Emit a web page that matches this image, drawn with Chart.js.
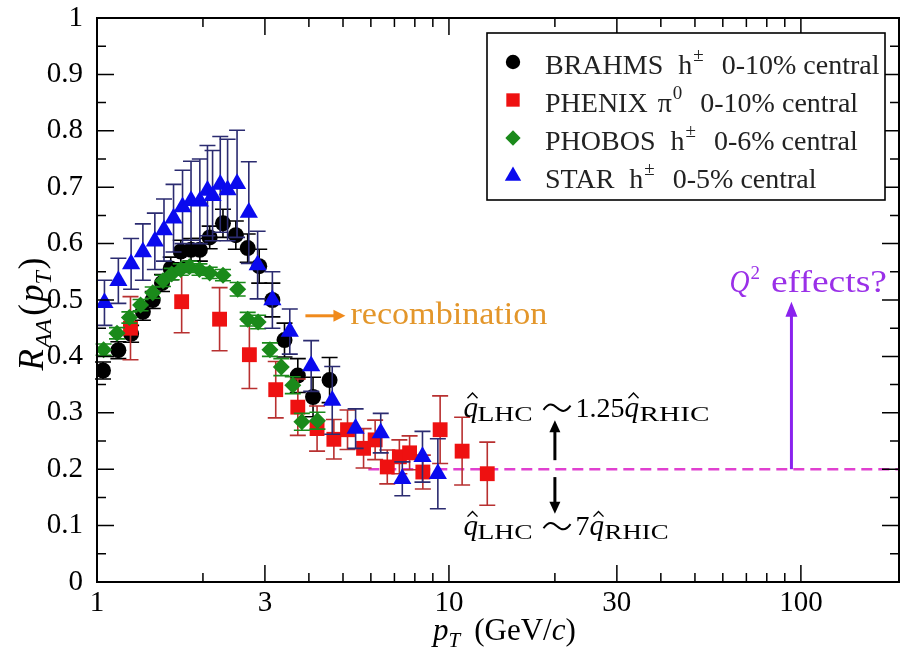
<!DOCTYPE html>
<html>
<head>
<meta charset="utf-8">
<script src="https://cdn.jsdelivr.net/npm/chart.js@4.4.0/dist/chart.umd.min.js"></script>
<style>
  html, body { margin: 0; padding: 0; background: #fff; }
  #wrap { width: 901px; height: 656px; }
</style>
</head>
<body>
<div id="wrap"><canvas id="raaChart"></canvas></div>
<script>
// =============================
// Nuclear modification factor R_AA(pT), central Au+Au at RHIC
// =============================

// BRAHMS h± 0-10%
const brahmsPt  = [1.04, 1.15, 1.25, 1.35, 1.44, 1.53, 1.62, 1.73, 1.85, 1.96, 2.09, 2.28, 2.48, 2.68, 2.89, 3.15, 3.41, 3.72, 4.11, 4.58];
const brahmsR   = [0.375, 0.411, 0.440, 0.479, 0.500, 0.530, 0.556, 0.586, 0.589, 0.589, 0.611, 0.636, 0.615, 0.592, 0.560, 0.500, 0.429, 0.366, 0.328, 0.358];
const brahmsErr = [0.015, 0.015, 0.015, 0.015, 0.015, 0.015, 0.02, 0.02, 0.02, 0.02, 0.02, 0.025, 0.025, 0.025, 0.03, 0.03, 0.03, 0.03, 0.035, 0.04];

// PHENIX pi0 0-10%
const phenixPt  = [1.245, 1.74, 2.23, 2.71, 3.22, 3.72, 4.22, 4.71, 5.15, 5.72, 6.17, 6.68, 7.23, 7.73, 8.43, 9.44, 10.9, 12.85];
const phenixR   = [0.450, 0.497, 0.466, 0.403, 0.341, 0.310, 0.272, 0.253, 0.270, 0.237, 0.252, 0.204, 0.222, 0.229, 0.195, 0.270, 0.232, 0.192];
const phenixErr = [0.056, 0.055, 0.056, 0.06, 0.05, 0.05, 0.04, 0.035, 0.035, 0.035, 0.035, 0.03, 0.03, 0.03, 0.03, 0.06, 0.06, 0.056];

// PHOBOS h± 0-6%
const phobosPt  = [1.044, 1.14, 1.236, 1.33, 1.44, 1.54, 1.63, 1.73, 1.83, 1.955, 2.09, 2.28, 2.51, 2.68, 2.87, 3.10, 3.34, 3.60, 3.82, 4.23];
const phobosR   = [0.412, 0.441, 0.469, 0.491, 0.513, 0.534, 0.546, 0.554, 0.559, 0.554, 0.548, 0.544, 0.519, 0.466, 0.461, 0.412, 0.381, 0.349, 0.284, 0.286];
const phobosErr = [0.01, 0.01, 0.01, 0.01, 0.01, 0.01, 0.01, 0.01, 0.01, 0.01, 0.01, 0.01, 0.012, 0.012, 0.012, 0.012, 0.015, 0.015, 0.015, 0.015];

// STAR h± 0-5%
const starPt  = [1.05, 1.15, 1.25, 1.35, 1.46, 1.55, 1.65, 1.75, 1.85, 1.96, 2.06, 2.13, 2.24, 2.35, 2.50, 2.70, 2.86, 3.15, 3.53, 4.06, 4.66, 5.43, 6.40, 7.37, 8.41, 9.30];
const starR   = [0.495, 0.534, 0.564, 0.585, 0.604, 0.624, 0.645, 0.665, 0.676, 0.675, 0.694, 0.685, 0.705, 0.695, 0.706, 0.655, 0.562, 0.500, 0.444, 0.383, 0.322, 0.272, 0.264, 0.183, 0.222, 0.192];
const starErr = [0.04, 0.04, 0.045, 0.05, 0.05, 0.055, 0.06, 0.065, 0.07, 0.075, 0.08, 0.08, 0.085, 0.09, 0.095, 0.09, 0.06, 0.05, 0.04, 0.045, 0.06, 0.035, 0.035, 0.03, 0.045, 0.062];

// legend text pieces
const expNames     = ['BRAHMS', 'PHENIX', 'PHOBOS', 'STAR'];
const expParticles = [['h', '±'], ['π', '0'], ['h', '±'], ['h', '±']];
const expCentral   = ['0-10% central', '0-10% central', '0-6% central', '0-5% central'];

// axes
const xTickValues = [1, 3, 10, 30, 100];
const xMinorTicks = [2, 4, 5, 6, 7, 8, 9, 20, 40, 50, 60, 70, 80, 90];
const xMin = 1, xMax = 190;
const yMin = 0, yMax = 1, yStep = 0.1;

// guide lines
const baselineR = 0.2;      // dashed reference level
const baselineFrom = 5.9;
const q2ArrowPt = 94, q2ArrowTop = 0.497;
const qhatArrowPt = 20;
const recoArrow = [3.91, 5.08], recoLevel = 0.472;

const SERIF = '"Liberation Serif", "Times New Roman", serif';

function pts(xs, ys) {
  return xs.map((x, i) => ({ x: x, y: ys[i] }));
}

function seriesLabel(i) {
  return expNames[i] + ' ' + expParticles[i].join('') + ' ' + expCentral[i];
}

const datasets = [
  { label: seriesLabel(0), data: pts(brahmsPt, brahmsR), errors: brahmsErr, errColor: '#000000',
    pointStyle: 'circle', pointRadius: 8, backgroundColor: '#000000', order: 3 },
  { label: seriesLabel(1), data: pts(phenixPt, phenixR), errors: phenixErr, errColor: '#b83030',
    pointStyle: 'rect', pointRadius: 10.5, backgroundColor: '#ee1111', order: 2 },
  { label: seriesLabel(2), data: pts(phobosPt, phobosR), errors: phobosErr, errColor: '#1a8a1a',
    pointStyle: 'rectRot', pointRadius: 8.5, backgroundColor: '#1a8a1a', order: 1 },
  { label: seriesLabel(3), data: pts(starPt, starR), errors: starErr, errColor: '#2b2b70',
    pointStyle: 'triangle', pointRadius: 10.5, backgroundColor: '#0a0aee', order: 0 }
];
datasets.forEach(d => {
  d.borderWidth = 0;
  d.borderColor = d.backgroundColor;
  d.pointHoverRadius = d.pointRadius;
  d.showLine = false;
});

// ---------- drawing helpers ----------
function text(ctx, s, x, y, font, color, w) {
  ctx.font = font;
  ctx.fillStyle = color;
  const m = ctx.measureText(s).width;
  if (w) {
    ctx.save();
    ctx.translate(x, y);
    ctx.scale(w / m, 1);
    ctx.fillText(s, 0, 0);
    ctx.restore();
    return x + w;
  }
  ctx.fillText(s, x, y);
  return x + m;
}

// math-style tilde, drawn as a curve
function tilde(ctx, x, y, w) {
  const h = 3.5;
  ctx.strokeStyle = '#000';
  ctx.lineWidth = 2;
  ctx.beginPath();
  ctx.moveTo(x, y + h * 0.6);
  ctx.bezierCurveTo(x + w * 0.2, y - h * 1.6, x + w * 0.35, y - h, x + w * 0.5, y);
  ctx.bezierCurveTo(x + w * 0.65, y + h, x + w * 0.8, y + h * 1.6, x + w, y - h * 0.6);
  ctx.stroke();
}

function arrowHead(ctx, x, y, dx, dy, len, half) {
  const px = -dy, py = dx;
  ctx.beginPath();
  ctx.moveTo(x, y);
  ctx.lineTo(x - dx * len + px * half, y - dy * len + py * half);
  ctx.lineTo(x - dx * len - px * half, y - dy * len - py * half);
  ctx.closePath();
  ctx.fill();
}

function arrow(ctx, x0, y0, x1, y1, color, lw, len, half) {
  const L = Math.hypot(x1 - x0, y1 - y0);
  const dx = (x1 - x0) / L, dy = (y1 - y0) / L;
  ctx.strokeStyle = color;
  ctx.fillStyle = color;
  ctx.lineWidth = lw;
  ctx.beginPath();
  ctx.moveTo(x0, y0);
  ctx.lineTo(x1 - dx * len * 0.8, y1 - dy * len * 0.8);
  ctx.stroke();
  arrowHead(ctx, x1, y1, dx, dy, len, half);
}

// q with a hat over it
function qhat(ctx, x, y, size) {
  const end = text(ctx, 'q', x, y, 'italic ' + size + 'px ' + SERIF, '#000');
  const cx = x + (end - x) * 0.62;
  ctx.strokeStyle = '#000';
  ctx.lineWidth = 1.4;
  ctx.beginPath();
  ctx.moveTo(cx - 5, y - size * 0.64);
  ctx.lineTo(cx, y - size * 0.82);
  ctx.lineTo(cx + 5, y - size * 0.64);
  ctx.stroke();
  return end;
}

function qhatRatio(ctx, x, y, factor, rhicW) {
  qhat(ctx, x, y, 29);
  text(ctx, 'LHC', x + 14, y + 4, '20px ' + SERIF, '#000', 55);
  tilde(ctx, x + 80, y - 9, 27);
  const q2 = text(ctx, factor, x + 112, y, '28px ' + SERIF, '#000');
  qhat(ctx, q2, y, 29);
  text(ctx, 'RHIC', q2 + 15, y + 4, '20px ' + SERIF, '#000', rhicW);
}

// ---------- plugin: error bars, frame, ticks, legend, notes ----------
const physicsOverlay = {
  id: 'physicsOverlay',
  beforeDatasetDraw(chart, args) {
    const ds = chart.data.datasets[args.index];
    const ctx = chart.ctx, xs = chart.scales.x, ys = chart.scales.y;
    ctx.save();
    ctx.strokeStyle = ds.errColor;
    ctx.lineWidth = 1.6;
    ds.data.forEach((p, j) => {
      const e = ds.errors[j];
      const x = xs.getPixelForValue(p.x);
      const yt = ys.getPixelForValue(p.y + e), yb = ys.getPixelForValue(p.y - e);
      ctx.beginPath();
      ctx.moveTo(x, yt); ctx.lineTo(x, yb);
      ctx.moveTo(x - 8, yt); ctx.lineTo(x + 8, yt);
      ctx.moveTo(x - 8, yb); ctx.lineTo(x + 8, yb);
      ctx.stroke();
    });
    ctx.restore();
  },
  beforeDatasetsDraw(chart) {
    const ctx = chart.ctx, xs = chart.scales.x, ys = chart.scales.y;
    ctx.save();
    // dashed reference level
    ctx.strokeStyle = '#e040d0';
    ctx.lineWidth = 2.5;
    ctx.setLineDash([11, 6]);
    ctx.beginPath();
    ctx.moveTo(xs.getPixelForValue(baselineFrom), ys.getPixelForValue(baselineR));
    ctx.lineTo(xs.getPixelForValue(xMax), ys.getPixelForValue(baselineR));
    ctx.stroke();
    ctx.setLineDash([]);
    ctx.restore();
  },
  afterDraw(chart) {
    const ctx = chart.ctx, xs = chart.scales.x, ys = chart.scales.y;
    const a = chart.chartArea;
    ctx.save();

    // frame
    ctx.strokeStyle = '#000';
    ctx.lineWidth = 2;
    ctx.strokeRect(a.left, a.top, a.right - a.left, a.bottom - a.top);

    // inward ticks
    ctx.lineWidth = 1.5;
    ctx.beginPath();
    for (let k = 0; k <= 20; k++) {
      const y = ys.getPixelForValue(yMin + k * yStep / 2);
      const len = k % 2 === 0 ? 17 : 9;
      ctx.moveTo(a.left, y); ctx.lineTo(a.left + len, y);
      ctx.moveTo(a.right, y); ctx.lineTo(a.right - len, y);
    }
    xTickValues.concat(xMinorTicks).forEach(v => {
      const x = xs.getPixelForValue(v);
      const len = xTickValues.includes(v) ? 17 : 9;
      ctx.moveTo(x, a.bottom); ctx.lineTo(x, a.bottom - len);
      ctx.moveTo(x, a.top); ctx.lineTo(x, a.top + len);
    });
    ctx.stroke();

    // axis titles
    ctx.textBaseline = 'alphabetic';
    ctx.textAlign = 'left';
    let x = 433, yb = 640;
    x = text(ctx, 'p', x, yb, 'italic 31px ' + SERIF, '#000');
    x = text(ctx, 'T', x, yb + 7, 'italic 21px ' + SERIF, '#000');
    x = text(ctx, '(GeV/', x + 14, yb, '31px ' + SERIF, '#000');
    x = text(ctx, 'c', x, yb, 'italic 31px ' + SERIF, '#000');
    text(ctx, ')', x, yb, '31px ' + SERIF, '#000');

    ctx.save();
    ctx.translate(43, 314);
    ctx.rotate(-Math.PI / 2);
    const parts = [['R', 'italic 35px', 0, 1], ['AA', 'italic 24px', 8, 3], ['(', '35px', 0, 2],
                   ['p', 'italic 35px', 0, 0], ['T', 'italic 24px', 8, 2], [')', '35px', 0, 0]];
    let tw = 0;
    parts.forEach(p => { ctx.font = p[1] + ' ' + SERIF; tw += ctx.measureText(p[0]).width + p[3]; });
    let tx = -tw / 2;
    parts.forEach(p => { tx = text(ctx, p[0], tx, p[2], p[1] + ' ' + SERIF, '#000') + p[3]; });
    ctx.restore();

    // legend
    const lx = a.right - 412, ly = a.top + 15, lw = 398, lh = 167;
    ctx.fillStyle = '#fff';
    ctx.fillRect(lx, ly, lw, lh);
    ctx.strokeStyle = '#000';
    ctx.lineWidth = 1.6;
    ctx.strokeRect(lx, ly, lw, lh);
    chart.data.datasets.forEach((ds, i) => {
      const cy = ly + 29 + i * 38;
      ctx.fillStyle = ds.backgroundColor;
      Chart.helpers.drawPoint(ctx, { pointStyle: ds.pointStyle, radius: ds.pointRadius * 0.9, rotation: 0, borderWidth: 0 }, lx + 26, cy);
      const base = cy + 12;
      let tx2 = text(ctx, expNames[i], lx + 58, base, '28px ' + SERIF, '#222');
      tx2 = text(ctx, expParticles[i][0], tx2 + (i === 1 ? 10 : 15), base, '28px ' + SERIF, '#222');
      tx2 = text(ctx, expParticles[i][1], tx2 + 1, base - 13, '19px ' + SERIF, '#222');
      text(ctx, expCentral[i], tx2 + 18, base, '28px ' + SERIF, '#222');
    });

    // recombination note
    const ry = ys.getPixelForValue(recoLevel);
    arrow(ctx, xs.getPixelForValue(recoArrow[0]), ry, xs.getPixelForValue(recoArrow[1]), ry, '#f08a1c', 3, 12, 6);
    text(ctx, 'recombination', xs.getPixelForValue(recoArrow[1]) + 5, ry + 8, '31px ' + SERIF, '#e3962a', 197);

    // Q^2 note
    const qx = xs.getPixelForValue(q2ArrowPt);
    arrow(ctx, qx, ys.getPixelForValue(baselineR), qx, ys.getPixelForValue(q2ArrowTop), '#8a22ee', 3, 15, 6);
    let nx = text(ctx, 'Q', qx - 62, ys.getPixelForValue(0.515), 'italic 31px ' + SERIF, '#9a30e8', 20);
    nx = text(ctx, '2', nx + 1, ys.getPixelForValue(0.515) - 13, '19px ' + SERIF, '#9a30e8');
    text(ctx, 'effects?', nx + 11, ys.getPixelForValue(0.515), '31px ' + SERIF, '#9a30e8', 116);

    // qhat scaling arrows
    const hx = xs.getPixelForValue(qhatArrowPt);
    arrow(ctx, hx, ys.getPixelForValue(0.216), hx, ys.getPixelForValue(0.287), '#000', 3, 12, 5.5);
    arrow(ctx, hx, ys.getPixelForValue(0.186), hx, ys.getPixelForValue(0.121), '#000', 3, 12, 5.5);
    const ax = xs.getPixelForValue(11.0);
    qhatRatio(ctx, ax, ys.getPixelForValue(0.293), '1.25', 70);
    qhatRatio(ctx, ax, ys.getPixelForValue(0.083), '7', 64);

    ctx.restore();
  }
};

// =============================
// Chart
// =============================
const ctx = document.getElementById('raaChart');
const raaChart = new Chart(ctx, {
  type: 'scatter',
  data: { datasets: datasets },
  plugins: [physicsOverlay],
  options: {
    responsive: true,
    maintainAspectRatio: false,
    animation: false,
    devicePixelRatio: 1,
    layout: { autoPadding: false, padding: { top: 18, right: 2, left: 0, bottom: 0 } },
    plugins: {
      legend: { display: false },
      tooltip: { enabled: false }
    },
    scales: {
      x: {
        type: 'logarithmic',
        min: xMin,
        max: xMax,
        afterBuildTicks: s => { s.ticks = xTickValues.map(v => ({ value: v })); },
        // fixed height, and no extra room for the end labels
        afterFit: s => { s.height = 74; s.paddingLeft = 0; s.paddingRight = 0; },
        grid: { display: false },
        border: { display: false },
        ticks: {
          autoSkip: false,
          maxRotation: 0,
          padding: -4,
          color: '#000',
          font: { family: SERIF, size: 29 },
          callback: v => String(v)
        }
      },
      y: {
        min: yMin,
        max: yMax,
        afterFit: s => { s.width = 97; s.paddingTop = 0; s.paddingBottom = 0; },
        grid: { display: false },
        border: { display: false },
        ticks: {
          stepSize: yStep,
          padding: 6,
          color: '#000',
          font: { family: SERIF, size: 29 },
          callback: v => String(Math.round(v * 10) / 10)
        }
      }
    }
  }
});
</script>
</body>
</html>
